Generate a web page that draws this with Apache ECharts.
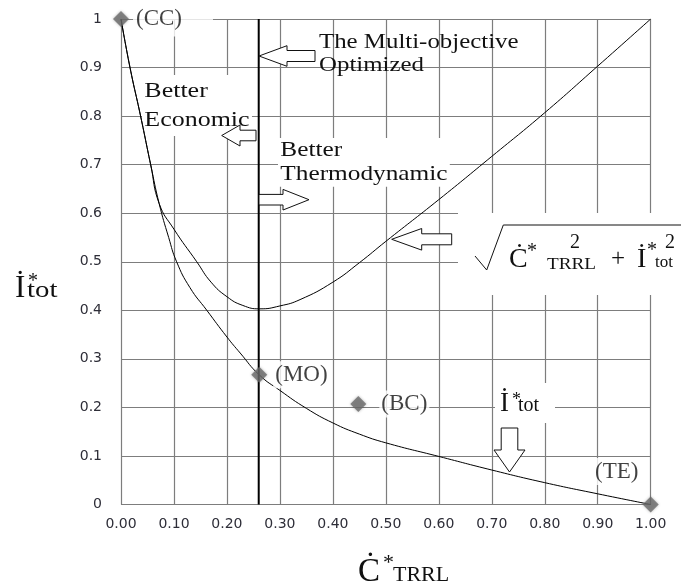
<!DOCTYPE html>
<html><head><meta charset="utf-8">
<script src="https://cdn.jsdelivr.net/npm/echarts@6/dist/echarts.min.js"></script>
<style>html,body{margin:0;padding:0;background:#fff}#c{width:681px;height:584px}</style>
</head><body><div id="c"></div>
<script>
// ---- data ----
const xTickLabels = ['0.00','0.10','0.20','0.30','0.40','0.50','0.60','0.70','0.80','0.90','1.00'];
const yTickLabels = ['0','0.1','0.2','0.3','0.4','0.5','0.6','0.7','0.8','0.9','1'];
const itotX = [0, 0.017, 0.037, 0.056, 0.072, 0.09, 0.105, 0.13, 0.162, 0.2, 0.225, 0.261, 0.3, 0.35, 0.4, 0.45, 0.5, 0.6, 0.7, 0.8, 0.9, 1.0];
const itotY = [1, 0.9, 0.8, 0.7, 0.62, 0.55, 0.5, 0.447, 0.4, 0.345, 0.312, 0.267, 0.235, 0.198, 0.168, 0.145, 0.127, 0.099, 0.071, 0.045, 0.022, 0];
const normX = [0, 0.017, 0.037, 0.056, 0.072, 0.1, 0.143, 0.17, 0.2, 0.23, 0.262, 0.3, 0.338, 0.4, 0.45, 0.5, 0.6, 0.7, 0.8, 0.9, 1.0];
const normY = [1, 0.9, 0.8, 0.7, 0.62, 0.567, 0.5, 0.458, 0.428, 0.41, 0.403, 0.409, 0.422, 0.458, 0.498, 0.542, 0.628, 0.717, 0.807, 0.903, 1.0];
const pointNames = ['(CC)', '(MO)', '(BC)', '(TE)'];
const pointX = [0, 0.261, 0.448, 1.0];
const pointY = [1, 0.267, 0.207, 0];
const optimumX = 0.26;

// ---- styles ----
const SERIF = '"Liberation Serif", "Times New Roman", serif';
const labelStyles = [
  {position: 'right', distance: 4, padding: [6, 31, 6, 3]},
  {position: 'right', distance: 6, padding: [2, 2, 2, 2]},
  {position: 'right', distance: 13, padding: [2, 2, 2, 2]},
  {position: 'inside', offset: [-34, -33], padding: [2, 3, 2, 3]}
];
const zip = (xs, ys) => xs.map((x, i) => [x, ys[i]]);

function txt(text, x, y, size, o) {
  o = o || {};
  const style = {
    text: text, font: size + 'px ' + SERIF, fill: o.fill || '#111',
    align: 'left', textAlign: 'left', verticalAlign: o.va || 'middle', textVerticalAlign: o.va || 'middle'
  };
  if (o.lineHeight) style.lineHeight = o.lineHeight;
  if (o.bg) { style.backgroundColor = o.bg; style.padding = o.padding || 0; }
  return {type: 'text', x: x, y: y, scaleX: o.sx || 1, z: o.z || 4, style: style};
}
function poly(points, o) {
  o = o || {};
  return {type: 'polygon', z: o.z || 5, shape: {points: points},
    style: {fill: '#fff', stroke: '#111', lineWidth: 1}};
}
function leftArrow(tx, ty, headEnd, headHalf, shaftEnd, shaftHalf) {
  return poly([[tx, ty], [headEnd, ty - headHalf], [headEnd, ty - shaftHalf], [shaftEnd, ty - shaftHalf],
    [shaftEnd, ty + shaftHalf], [headEnd, ty + shaftHalf], [headEnd, ty + headHalf]]);
}
function rightArrow(tx, ty, headStart, headHalf, shaftStart, shaftHalf) {
  return poly([[tx, ty], [headStart, ty - headHalf], [headStart, ty - shaftHalf], [shaftStart, ty - shaftHalf],
    [shaftStart, ty + shaftHalf], [headStart, ty + shaftHalf], [headStart, ty + headHalf]]);
}
function downArrow(tx, ty, headStart, headHalf, shaftTop, shaftHalf) {
  return poly([[tx, ty], [tx - headHalf, headStart], [tx - shaftHalf, headStart], [tx - shaftHalf, shaftTop],
    [tx + shaftHalf, shaftTop], [tx + shaftHalf, headStart], [tx + headHalf, headStart]]);
}

const chart = echarts.init(document.getElementById('c'), null, {renderer: 'canvas'});
const gridColor = '#7d7d7d';
const tickFont = {fontFamily: '"DejaVu Sans", Verdana, sans-serif', fontSize: 14, color: '#2e2e38'};

const option = {
  backgroundColor: '#fff',
  animation: false,
  grid: {left: 121, right: 30.3, top: 19, bottom: 79.5, containLabel: false},
  xAxis: {
    type: 'value', min: 0, max: 1, interval: 0.1,
    axisLine: {show: false}, axisTick: {show: false},
    splitLine: {show: true, lineStyle: {color: gridColor, width: 1.2}},
    axisLabel: Object.assign({margin: 13, formatter: v => xTickLabels[Math.round(v * 10)]}, tickFont)
  },
  yAxis: {
    type: 'value', min: 0, max: 1, interval: 0.1,
    axisLine: {show: false}, axisTick: {show: false},
    splitLine: {show: true, lineStyle: {color: gridColor, width: 1.2}},
    axisLabel: Object.assign({margin: 19, formatter: v => yTickLabels[Math.round(v * 10)]}, tickFont)
  },
  series: [
    {type: 'line', name: 'Itot', data: zip(itotX, itotY), symbol: 'none', smooth: 0.5,
      lineStyle: {color: '#000', width: 1}, z: 3},
    {type: 'line', name: 'norm', data: zip(normX, normY), symbol: 'none', smooth: 0.5,
      lineStyle: {color: '#000', width: 1}, z: 3},
    {type: 'line', name: 'optimum', data: [[optimumX, 0], [optimumX, 1]], symbol: 'none',
      lineStyle: {color: '#000', width: 2}, z: 3},
    {type: 'scatter', name: 'points', symbol: 'diamond', symbolSize: 16, z: 6,
      itemStyle: {color: '#6b6b6b', shadowBlur: 3, shadowColor: 'rgba(0,0,0,0.35)'},
      data: pointNames.map((n, i) => ({
        name: n, value: [pointX[i], pointY[i]],
        label: Object.assign({show: true, formatter: n, fontFamily: SERIF, fontSize: 23, color: '#111',
          backgroundColor: '#fff'}, labelStyles[i])
      }))
    }
  ],
  graphic: [
    // white box behind the formula
    {type: 'rect', z: 2, shape: {x: 458, y: 213, width: 223, height: 82}, style: {fill: '#fff'}},
    // white box behind İ*tot label
    {type: 'rect', z: 2, shape: {x: 495, y: 383, width: 60, height: 40}, style: {fill: '#fff'}},
    // annotations
    txt('The Multi-objective\nOptimized', 319, 31, 22, {lineHeight: 23, va: 'top', sx: 1.13}),
    txt('Better\nEconomic', 142, 75, 22, {lineHeight: 28.5, va: 'top', sx: 1.18, bg: '#fff', padding: [2, 2, 2, 2], z: 2}),
    txt('Better\nThermodynamic', 278, 138, 22, {lineHeight: 24.4, va: 'top', sx: 1.15, bg: '#fff', padding: [0, 2, 0, 2], z: 2}),
    leftArrow(259, 56, 287, 10.3, 315, 5.5),
    leftArrow(221.7, 135.5, 240, 10.5, 256, 5.3),
    rightArrow(309, 199.7, 283, 10.3, 259, 5.3),
    leftArrow(391.7, 239.3, 421.7, 10.8, 451.7, 5.5),
    downArrow(509.5, 472, 450, 15.5, 428, 8.3),
    // formula
    {type: 'polyline', z: 4, shape: {points: [[475, 256], [486.7, 270], [503.3, 225], [681, 225]]},
      style: {stroke: '#111', lineWidth: 1, fill: null}},
    txt('\u010A', 509, 259.5, 28),
    txt('*', 527, 252, 20),
    txt('2', 570, 242.5, 20),
    txt('TRRL', 547, 264.3, 16, {sx: 1.2}),
    txt('+', 611, 259, 25),
    txt('\u0130', 637, 259.5, 28),
    txt('*', 647, 251, 20),
    txt('tot', 655, 262.3, 17),
    txt('2', 665, 242.5, 20),
    // I*tot label by arrow
    txt('\u0130', 500, 404, 27),
    txt('*', 512, 400, 18),
    txt('tot', 518, 406, 20),
    // y axis name
    txt('\u0130', 15, 288.5, 31),
    txt('*', 28, 282, 20),
    txt('tot', 27, 291.2, 24, {sx: 1.2}),
    // x axis name
    txt('\u010A', 358, 572, 33),
    txt('*', 383, 563, 22),
    txt('TRRL', 393, 575.5, 22)
  ]
};
chart.setOption(option);
</script>
</body></html>
